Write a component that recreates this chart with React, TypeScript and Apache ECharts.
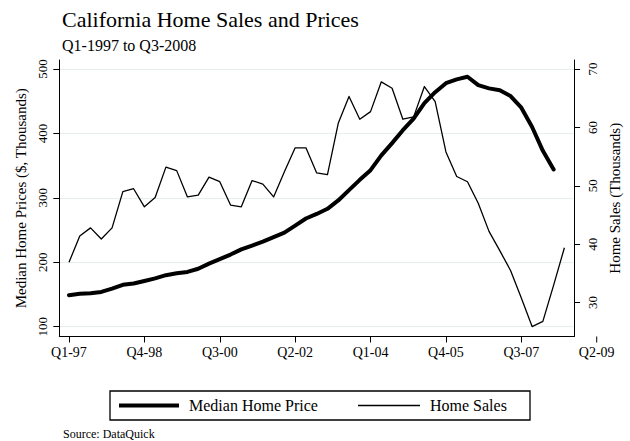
import React, { useEffect, useRef } from "react";
import * as echarts from "echarts";

// Quarterly data, Q1-1997 (index 0) onwards
const priceValues = [
  149, 151, 152, 154, 159, 165, 167, 171, 175, 180,
  183, 185, 190, 198, 205, 212, 220, 226, 232, 239,
  246, 257, 268, 275, 283, 296, 312, 328, 343, 366,
  385, 405, 423, 447, 464, 478, 484, 488, 475, 470,
  467, 458, 440, 410, 373, 344,
];
const salesValues = [
  36.9, 41.4, 42.8, 40.9, 42.8, 49.0, 49.5, 46.4, 48.0, 53.2,
  52.6, 48.1, 48.4, 51.5, 50.7, 46.7, 46.4, 50.9, 50.3, 48.1,
  52.4, 56.5, 56.5, 52.2, 51.9, 60.7, 65.3, 61.4, 62.7, 67.8,
  66.7, 61.4, 61.8, 67.0, 64.4, 55.8, 51.6, 50.7, 47.0, 42.2,
  38.9, 35.5, 30.8, 25.9, 26.8, 33.0, 39.4,
];
const xTickPositions = [0, 7, 14, 21, 28, 35, 42, 49];
const xTickLabels = ["Q1-97", "Q4-98", "Q3-00", "Q2-02", "Q1-04", "Q4-05", "Q3-07", "Q2-09"];
const priceTicks = [100, 200, 300, 400, 500];
const salesTicks = [30, 40, 50, 60, 70];
const seriesNames = ["Median Home Price", "Home Sales"];

const FONT = '"Liberation Serif", "Times New Roman", serif';
const X_MIN = -0.9;
const X_MAX = 46.9;
const PRICE_MIN = 84.8;
const PRICE_MAX = 514;
const SALES_MIN = 24.2;
const SALES_MAX = 71.54;

export default function App() {
  const ref = useRef<HTMLDivElement>(null);
  useEffect(() => {
    const chart = echarts.init(ref.current!, null, { renderer: "svg" });
    const inPlotTicks = xTickPositions.filter((v) => v <= X_MAX);
    const option: any = {
      animation: false,
      backgroundColor: "#fff",
      title: {
        text: "California Home Sales and Prices",
        subtext: "Q1-1997 to Q3-2008",
        left: 62,
        top: 8,
        padding: 0,
        itemGap: 7,
        textStyle: { fontFamily: FONT, fontSize: 22, fontWeight: "normal", color: "#000" },
        subtextStyle: { fontFamily: FONT, fontSize: 16, color: "#000" },
      },
      grid: { left: 59.3, right: 50, top: 60, bottom: 104.5, containLabel: false },
      xAxis: {
        type: "value",
        min: X_MIN,
        max: X_MAX,
        axisLine: { show: true, onZero: false, lineStyle: { color: "#000", width: 1 } },
        axisTick: { show: true, length: 6, customValues: inPlotTicks, lineStyle: { color: "#000", width: 1 } },
        axisLabel: {
          customValues: inPlotTicks,
          margin: 9,
          fontFamily: FONT,
          fontSize: 14,
          color: "#000",
          formatter: (v: number) => xTickLabels[xTickPositions.indexOf(Math.round(v))] ?? "",
        },
        splitLine: { show: false },
      },
      yAxis: [
        {
          type: "value",
          position: "left",
          min: PRICE_MIN,
          max: PRICE_MAX,
          axisLine: { show: true, onZero: false, lineStyle: { color: "#000", width: 1 } },
          axisTick: { show: true, length: 6, customValues: priceTicks, lineStyle: { color: "#000", width: 1 } },
          axisLabel: { customValues: priceTicks, rotate: 90, margin: 10, fontFamily: FONT, fontSize: 13, color: "#000" },
          splitLine: { show: true, lineStyle: { color: "#e6eeef", width: 1 } },
          name: "Median Home Prices ($, Thousands)",
          nameLocation: "middle",
          nameGap: 30,
          nameTextStyle: { fontFamily: FONT, fontSize: 15, color: "#000" },
        },
        {
          type: "value",
          position: "right",
          min: SALES_MIN,
          max: SALES_MAX,
          axisLine: { show: true, onZero: false, lineStyle: { color: "#000", width: 1 } },
          axisTick: { show: true, length: 6, customValues: salesTicks, lineStyle: { color: "#000", width: 1 } },
          axisLabel: { customValues: salesTicks, rotate: 90, margin: 12, fontFamily: FONT, fontSize: 13, color: "#000" },
          splitLine: { show: false },
          name: "Home Sales (Thousands)",
          nameLocation: "middle",
          nameGap: 29,
          nameTextStyle: { fontFamily: FONT, fontSize: 15, color: "#000" },
        },
      ],
      series: [
        {
          type: "line",
          name: seriesNames[0],
          yAxisIndex: 0,
          symbol: "none",
          data: priceValues.map((v, i) => [i, v]),
          lineStyle: { color: "#000", width: 4, join: "round", cap: "round" },
          itemStyle: { color: "#000" },
          z: 3,
        },
        {
          type: "line",
          name: seriesNames[1],
          yAxisIndex: 1,
          symbol: "none",
          data: salesValues.map((v, i) => [i, v]),
          lineStyle: { color: "#000", width: 1.3, join: "round" },
          itemStyle: { color: "#000" },
          z: 2,
        },
      ],
    };
    chart.setOption(option);

    // ticks beyond the plot region (Stata draws the Q2-09 tick outside)
    const outside = xTickPositions.filter((v) => v > X_MAX);
    const extra: any[] = [];
    outside.forEach((v, k) => {
      const p = chart.convertToPixel({ gridIndex: 0 }, [v, PRICE_MIN]) as number[];
      extra.push({
        type: "line",
        id: "xt" + k,
        shape: { x1: p[0], y1: p[1], x2: p[0], y2: p[1] + 6 },
        style: { stroke: "#000", lineWidth: 1 },
      });
      extra.push({
        type: "text",
        id: "xl" + k,
        x: p[0],
        y: p[1] + 9,
        style: {
          text: xTickLabels[xTickPositions.indexOf(v)],
          align: "center",
          verticalAlign: "top",
          fontFamily: FONT,
          fontSize: 14,
          fill: "#000",
        },
      });
    });

    const legendY = 405.5;
    chart.setOption({
      graphic: [
        ...extra,
        {
          type: "rect",
          id: "legbox",
          shape: { x: 110, y: 391, width: 420, height: 29 },
          style: { fill: "#fff", stroke: "#000", lineWidth: 1.3 },
        },
        {
          type: "line",
          id: "leg1",
          shape: { x1: 119, y1: legendY, x2: 179, y2: legendY },
          style: { stroke: "#000", lineWidth: 4 },
        },
        {
          type: "text",
          id: "legt1",
          x: 189,
          y: legendY,
          style: { text: seriesNames[0], fontFamily: FONT, fontSize: 16, fill: "#000", verticalAlign: "middle" },
        },
        {
          type: "line",
          id: "leg2",
          shape: { x1: 358, y1: legendY, x2: 420, y2: legendY },
          style: { stroke: "#000", lineWidth: 1.3 },
        },
        {
          type: "text",
          id: "legt2",
          x: 430,
          y: legendY,
          style: { text: seriesNames[1], fontFamily: FONT, fontSize: 16, fill: "#000", verticalAlign: "middle" },
        },
        {
          type: "text",
          id: "src",
          x: 63,
          y: 434,
          style: { text: "Source: DataQuick", fontFamily: FONT, fontSize: 12, fill: "#000", verticalAlign: "middle" },
        },
      ],
    });

    return () => chart.dispose();
  }, []);
  return <div ref={ref} style={{ width: 630, height: 441, position: "absolute", left: 0, top: 0 }} />;
}
